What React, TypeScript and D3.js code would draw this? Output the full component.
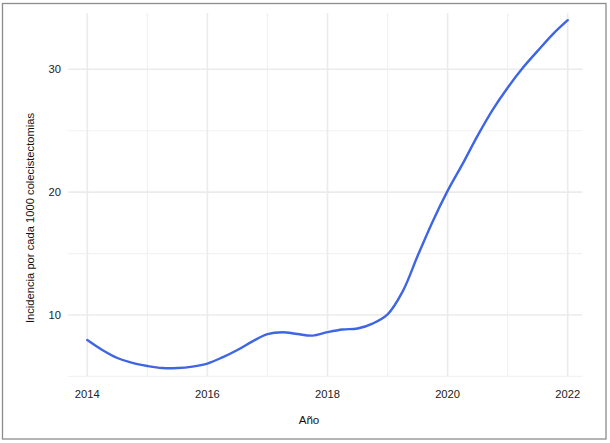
import { useEffect, useRef } from 'react'
import * as d3 from 'd3'

// smoothed incidence curve, every quarter year
const years = [
  2014, 2014.25, 2014.5, 2014.75, 2015, 2015.25, 2015.5, 2015.75,
  2016, 2016.25, 2016.5, 2016.75, 2017, 2017.25, 2017.5, 2017.75,
  2018, 2018.25, 2018.5, 2018.75, 2019, 2019.25, 2019.5, 2019.75,
  2020, 2020.25, 2020.5, 2020.75, 2021, 2021.25, 2021.5, 2021.75, 2022
]
const incidence = [
  7.96, 7.15, 6.5, 6.1, 5.85, 5.68, 5.68, 5.8,
  6.05, 6.55, 7.15, 7.85, 8.45, 8.6, 8.45, 8.32,
  8.6, 8.82, 8.9, 9.3, 10.05, 11.9, 14.8, 17.6,
  20.1, 22.3, 24.6, 26.7, 28.5, 30.1, 31.5, 32.85, 34.0
]
const xMajor = [2014, 2016, 2018, 2020, 2022]
const xMinor = [2015, 2017, 2019, 2021]
const yMajor = [10, 20, 30]
const yMinor = [5, 15, 25]

const W = 610
const H = 443
const FONT = 'Liberation Sans, Arial, sans-serif'

export default function App() {
  const svgRef = useRef<SVGSVGElement>(null)

  useEffect(() => {
    if (!svgRef.current) return
    const svg = d3.select(svgRef.current)
    svg.selectAll('*').remove()

    const panel = { left: 68.3, right: 582.3, top: 13, bottom: 376 }

    const x = d3.scaleLinear().domain([2014, 2022]).range([87.3, 567.7])
    const y = d3.scaleLinear().domain([10, 30]).range([315, 69.3])

    svg.append('rect')
      .attr('x', 0).attr('y', 0).attr('width', W).attr('height', H)
      .attr('fill', '#fff')

    // outer frame
    svg.append('rect')
      .attr('x', 2.5).attr('y', 3.5).attr('width', 603.5).attr('height', 435.5)
      .attr('fill', 'none')
      .attr('stroke', '#8c8c8c')
      .attr('stroke-width', 1.3)

    const grid = svg.append('g')

    // minor grid
    grid.selectAll('.xminor').data(xMinor).enter().append('line')
      .attr('x1', d => x(d)).attr('x2', d => x(d))
      .attr('y1', panel.top).attr('y2', panel.bottom)
      .attr('stroke', '#f2f2f2').attr('stroke-width', 1.2)
    grid.selectAll('.yminor').data(yMinor).enter().append('line')
      .attr('x1', panel.left).attr('x2', panel.right)
      .attr('y1', d => y(d)).attr('y2', d => y(d))
      .attr('stroke', '#f2f2f2').attr('stroke-width', 1.2)

    // major grid
    grid.selectAll('.xmajor').data(xMajor).enter().append('line')
      .attr('x1', d => x(d)).attr('x2', d => x(d))
      .attr('y1', panel.top).attr('y2', panel.bottom)
      .attr('stroke', '#ebebeb').attr('stroke-width', 1.6)
    grid.selectAll('.ymajor').data(yMajor).enter().append('line')
      .attr('x1', panel.left).attr('x2', panel.right)
      .attr('y1', d => y(d)).attr('y2', d => y(d))
      .attr('stroke', '#ebebeb').attr('stroke-width', 1.6)

    // smooth line
    const pts = years.map((yr, i) => [yr, incidence[i]] as [number, number])
    const line = d3.line<[number, number]>()
      .x(d => x(d[0]))
      .y(d => y(d[1]))
      .curve(d3.curveCatmullRom.alpha(0.5))

    svg.append('path')
      .datum(pts)
      .attr('d', line)
      .attr('fill', 'none')
      .attr('stroke', '#3e65e4')
      .attr('stroke-width', 2.4)
      .attr('stroke-linecap', 'round')

    // tick labels
    svg.selectAll('.xlab').data(xMajor).enter().append('text')
      .attr('x', d => x(d))
      .attr('y', 398.3)
      .attr('text-anchor', 'middle')
      .attr('font-family', FONT)
      .attr('font-size', 11.2)
      .attr('fill', '#222')
      .text(d => d)

    svg.selectAll('.ylab').data(yMajor).enter().append('text')
      .attr('x', 61)
      .attr('y', d => y(d))
      .attr('dy', '0.36em')
      .attr('text-anchor', 'end')
      .attr('font-family', FONT)
      .attr('font-size', 11.2)
      .attr('fill', '#222')
      .text(d => d)

    // axis titles
    svg.append('text')
      .attr('x', 309)
      .attr('y', 424)
      .attr('text-anchor', 'middle')
      .attr('font-family', FONT)
      .attr('font-size', 11.6)
      .attr('fill', '#111')
      .text('Año')

    svg.append('text')
      .attr('transform', 'translate(33.5,218) rotate(-90)')
      .attr('text-anchor', 'middle')
      .attr('font-family', FONT)
      .attr('font-size', 11.2)
      .attr('fill', '#111')
      .text('Incidencia por cada 1000 colecistectomias')
  }, [])

  return (
    <svg
      ref={svgRef}
      width={W}
      height={H}
      style={{ position: 'absolute', left: 0, top: 0, display: 'block' }}
    />
  )
}
